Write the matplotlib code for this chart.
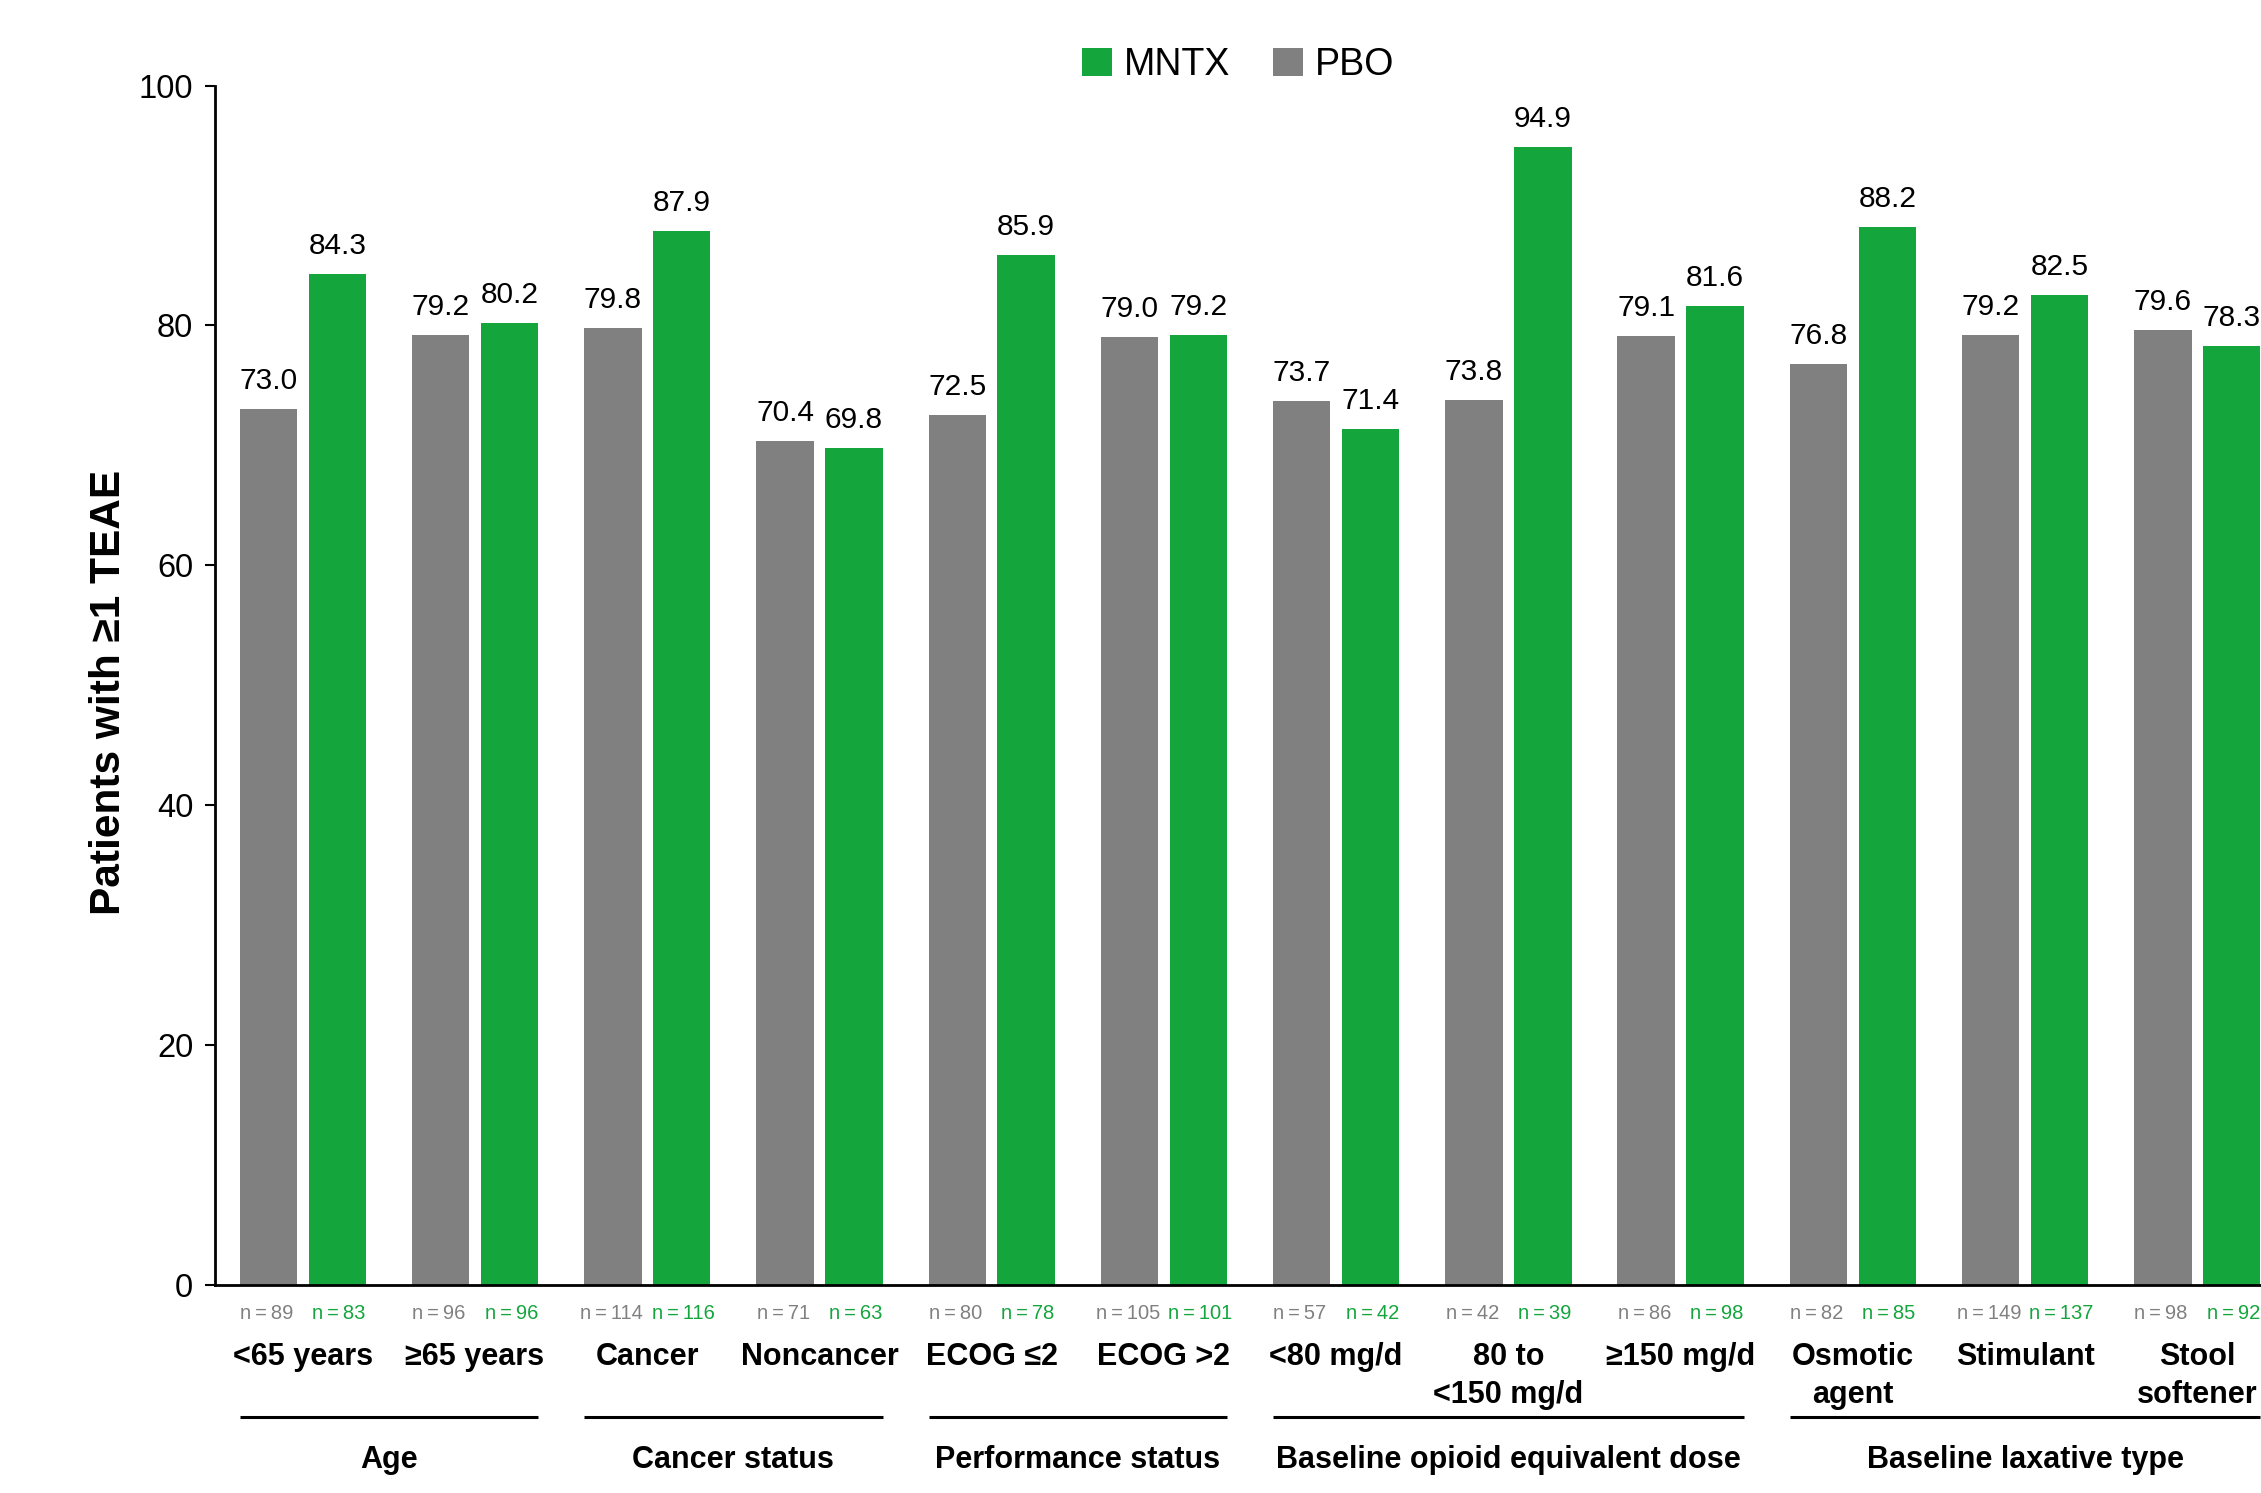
import matplotlib
matplotlib.use("Agg")
import matplotlib.pyplot as plt
from matplotlib.patches import Patch
import numpy as np

plt.rcParams['font.family'] = ['Liberation Sans', 'DejaVu Sans']

# Subgroup categories (in plotting order)
categories = ["<65 years", "\u226565 years", "Cancer", "Noncancer", "ECOG \u22642", "ECOG >2",
              "<80 mg/d", "80 to\n<150 mg/d", "\u2265150 mg/d", "Osmotic\nagent", "Stimulant", "Stool\nsoftener"]

# Percentage of patients with at least one TEAE
pbo_values = [73.0, 79.2, 79.8, 70.4, 72.5, 79.0, 73.7, 73.8, 79.1, 76.8, 79.2, 79.6]
mntx_values = [84.3, 80.2, 87.9, 69.8, 85.9, 79.2, 71.4, 94.9, 81.6, 88.2, 82.5, 78.3]

# Patients per subgroup
pbo_n = [89, 96, 114, 71, 80, 105, 57, 42, 86, 82, 149, 98]
mntx_n = [83, 96, 116, 63, 78, 101, 42, 39, 98, 85, 137, 92]

# Subgroup families: (label, first index, last index)
group_labels = ["Age", "Cancer status", "Performance status",
                "Baseline opioid equivalent dose", "Baseline laxative type"]
group_spans = [(0, 1), (2, 3), (4, 5), (6, 8), (9, 11)]

yticks = [0, 20, 40, 60, 80, 100]

GREEN = "#14a53d"
GRAY = "#808080"

W, H = 2261, 1493
fig = plt.figure(figsize=(W / 100, H / 100), dpi=100)

ax_left, ax_right = 215 / W, 1.0
ax_bottom, ax_top = 1 - 1285 / H, 1 - 85.5 / H
ax = fig.add_axes([ax_left, ax_bottom, ax_right - ax_left, ax_top - ax_bottom])
ax_h_px = 1285 - 85.5

def yfrac(px):
    """Axes-fraction y for a pixel row measured from the top of the figure."""
    return (1285 - px) / ax_h_px

x = np.arange(len(categories))
bw = 0.333
off = 0.2

bars_pbo = ax.bar(x - off, pbo_values, width=bw, color=GRAY, label="PBO", zorder=2)
bars_mntx = ax.bar(x + off, mntx_values, width=bw, color=GREEN, label="MNTX", zorder=2)

for bars, vals in ((bars_pbo, pbo_values), (bars_mntx, mntx_values)):
    for b, v in zip(bars, vals):
        ax.annotate(f"{v:.1f}", (b.get_x() + b.get_width() / 2, v),
                    xytext=(0, 14.4), textcoords="offset points",
                    ha="center", va="baseline", fontsize=21.5, color="black",
                    annotation_clip=False)

ax.set_xlim(-0.51, 11.37)
ax.set_ylim(0, 100)
ax.set_yticks(yticks)
ax.set_xticks([])
ax.tick_params(axis="y", direction="out", length=7, width=1.5, pad=8.6,
               labelsize=23.5, colors="black")

for s in ("top", "right"):
    ax.spines[s].set_visible(False)
for s in ("left", "bottom"):
    ax.spines[s].set_linewidth(2)
    ax.spines[s].set_color("black")

ax.set_ylabel("Patients with \u22651 TEAE", fontsize=30.5, fontweight="bold", va="center")
ax.yaxis.set_label_coords(-0.052, 0.494)

tr = ax.get_xaxis_transform()

# Sample sizes under each bar
for i in range(len(categories)):
    ax.text(x[i] - off - 0.01, yfrac(1319), f"n\u2009=\u2009{pbo_n[i]}", transform=tr,
            ha="center", va="baseline", fontsize=14.5, color=GRAY, clip_on=False)
    ax.text(x[i] + off + 0.01, yfrac(1319), f"n\u2009=\u2009{mntx_n[i]}", transform=tr,
            ha="center", va="baseline", fontsize=14.5, color=GREEN, clip_on=False)

# Category labels, one line at a time
for i, lab in enumerate(categories):
    for j, line in enumerate(lab.split("\n")):
        ax.text(x[i], yfrac(1365 + 38 * j), line, transform=tr, ha="center",
                va="baseline", fontsize=22, fontweight="bold", clip_on=False)

# Family brackets and labels
for lab, (a, b) in zip(group_labels, group_spans):
    x0 = a - off - bw / 2
    x1 = b + off + bw / 2
    ax.plot([x0, x1], [yfrac(1417)] * 2, transform=tr, color="black",
            lw=2.2, clip_on=False, solid_capstyle="butt")
    ax.text((x0 + x1) / 2, yfrac(1468), lab, transform=tr, ha="center",
            va="baseline", fontsize=22, fontweight="bold", clip_on=False)

handles = [Patch(facecolor=GREEN, label="MNTX"), Patch(facecolor=GRAY, label="PBO")]
fig.legend(handles=handles, loc="center", bbox_to_anchor=(1238 / W, 1 - 65 / H),
           ncol=2, frameon=False, fontsize=27, handlelength=0.8, handleheight=0.8,
           handletextpad=0.32, columnspacing=1.15, borderpad=0, borderaxespad=0)

fig.savefig("out.png", dpi=100)
